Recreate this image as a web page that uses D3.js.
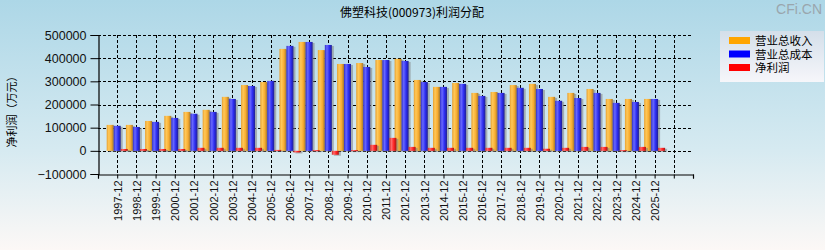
<!DOCTYPE html>
<html>
<head>
<meta charset="utf-8">
<script src="https://cdn.jsdelivr.net/npm/d3@7/dist/d3.min.js"></script>
<style>
  body { margin: 0; padding: 0; }
  svg { display: block; }
</style>
</head>
<body>
<script>
// data (万元)
var years = ["1997-12","1998-12","1999-12","2000-12","2001-12","2002-12","2003-12","2004-12","2005-12","2006-12",
             "2007-12","2008-12","2009-12","2010-12","2011-12","2012-12","2013-12","2014-12","2015-12","2016-12",
             "2017-12","2018-12","2019-12","2020-12","2021-12","2022-12","2023-12","2024-12","2025-12"];
var revenue = [112000,112000,129000,151000,168000,177000,233000,284000,297000,440000,
               470000,435000,375000,379000,392000,397000,306000,276000,293000,250000,
               254000,284000,289000,233000,250000,267000,224000,224000,224000];
var cost    = [108000,103000,125000,142000,160000,168000,224000,280000,302000,453000,
               470000,457000,375000,362000,392000,388000,297000,276000,289000,237000,
               250000,272000,267000,216000,228000,250000,207000,211000,224000];
var profit  = [8000,8000,8000,8000,13000,13000,13000,13000,4000,-7000,
               3000,-17000,3000,26000,56000,17000,13000,13000,13000,13000,
               13000,13000,9000,13000,17000,17000,3000,17000,13000];
var yTicks = [-100000,0,100000,200000,300000,400000,500000];
var seriesNames = ["营业总收入","营业总成本","净利润"];
var seriesColors = ["#ffa500","#0000ff","#ff0000"];

var W = 825, H = 250;
var pL = 98, pR = 693, pT = 35, pB = 174;

var svg = d3.select("body").append("svg").attr("width", W).attr("height", H);
var defs = svg.append("defs");

var bg = defs.append("linearGradient").attr("id","bg").attr("x1",0).attr("y1",0).attr("x2",0).attr("y2",1);
bg.append("stop").attr("offset","0%").attr("stop-color","#add7e7");
bg.append("stop").attr("offset","60%").attr("stop-color","#d6eaf1");
bg.append("stop").attr("offset","100%").attr("stop-color","#fcf8f6");
svg.append("rect").attr("width",W).attr("height",H).attr("fill","url(#bg)");

function barGrad(id, stops) {
  var g = defs.append("linearGradient").attr("id", id).attr("x1",0).attr("y1",0).attr("x2",1).attr("y2",0);
  stops.forEach(function(s){ g.append("stop").attr("offset", s[0]).attr("stop-color", s[1]); });
}
barGrad("g0", [["0%","#e8a030"],["30%","#ffc858"],["65%","#f8ac30"],["100%","#a07830"]]);
barGrad("g1", [["0%","#3030c8"],["30%","#6868ff"],["65%","#2c2cf0"],["100%","#202090"]]);
barGrad("g2", [["0%","#d02828"],["30%","#ff6868"],["65%","#ff2020"],["100%","#a01818"]]);

var x = d3.scaleLinear().domain([-1, years.length + 1]).range([pL, pR]);
var y = d3.scaleLinear().domain([-100000, 500000]).range([pB, pT]);

// grid
var grid = svg.append("g");
grid.selectAll(".hg").data(yTicks.filter(function(d){ return d > -100000; })).enter().append("line")
  .attr("x1", pL).attr("x2", pR)
  .attr("y1", function(d){ return Math.round(y(d)) + 0.5; })
  .attr("y2", function(d){ return Math.round(y(d)) + 0.5; })
  .attr("stroke","#000").attr("stroke-dasharray","3,2");
grid.selectAll(".vg").data(years.concat(["end"])).enter().append("line")
  .attr("x1", function(d,i){ return Math.round(x(i)) + 0.5; })
  .attr("x2", function(d,i){ return Math.round(x(i)) + 0.5; })
  .attr("y1", pT).attr("y2", pB)
  .attr("stroke","#000").attr("stroke-dasharray","3,2");

// bars
var bw = 7;
var series = [revenue, cost, profit];
series.forEach(function(vals, k) {
  var g = svg.append("g");
  var off = -10.5 + k * 7;
  // shadow
  g.selectAll(".s").data(vals).enter().append("rect")
    .attr("x", function(d,i){ return x(i) + off + 2; })
    .attr("y", function(d){ return Math.min(y(d), y(0)) + 1; })
    .attr("width", bw)
    .attr("height", function(d){ return Math.max(1, Math.abs(y(d) - y(0))); })
    .attr("fill","#808080").attr("opacity",0.55);
  g.selectAll(".b").data(vals).enter().append("rect")
    .attr("x", function(d,i){ return x(i) + off; })
    .attr("y", function(d){ return Math.min(y(d), y(0)); })
    .attr("width", bw)
    .attr("height", function(d){ return Math.max(1, Math.abs(y(d) - y(0))); })
    .attr("fill","url(#g" + k + ")");
});

// axes
var yAxis = d3.axisLeft(y).tickValues(yTicks).tickSize(8).tickFormat(d3.format("d"));
var ya = svg.append("g").attr("transform","translate(" + (pL + 0.5) + ",0)").call(yAxis);
ya.select(".domain").attr("stroke","#000").attr("stroke-width",1.2);
ya.selectAll("text").attr("font-family","Liberation Sans, Arial, sans-serif").attr("font-size","12.5px").attr("fill","#111").attr("dx","-1");

var xAxis = d3.axisBottom(x).tickValues(d3.range(-1, years.length + 2)).tickSize(4).tickFormat(function(d){ return (d >= 0 && d < years.length) ? years[d] : ""; });
var xa = svg.append("g").attr("transform","translate(0," + (pB + 0.5) + ")").call(xAxis);
xa.select(".domain").attr("stroke","#000").attr("stroke-width",1.2);
xa.selectAll("text")
  .attr("font-family","Liberation Sans, Arial, sans-serif").attr("font-size","11px").attr("fill","#111")
  .attr("transform","rotate(-90)").attr("text-anchor","end")
  .attr("x", -6).attr("y", 0).attr("dy","0.35em");

// title
svg.append("text").attr("x", 412).attr("y", 17).attr("text-anchor","middle")
  .attr("font-family","Noto Sans CJK SC, sans-serif").attr("font-size","12px").attr("fill","#000")
  .text("佛塑科技(000973)利润分配");

// y label
svg.append("text").attr("transform","translate(16,109) rotate(-90)").attr("text-anchor","middle")
  .attr("font-family","Noto Sans CJK SC, sans-serif").attr("font-size","11px").attr("fill","#000")
  .text("净利润（万元）");

// watermark
svg.append("text").attr("x", 822).attr("y", 14).attr("text-anchor","end")
  .attr("font-family","Liberation Sans, Arial, sans-serif").attr("font-size","14px").attr("fill","#9aa6ad")
  .text("CFi.CN");

// legend
var lg = defs.append("linearGradient").attr("id","lg").attr("x1",0).attr("y1",0).attr("x2",0).attr("y2",1);
lg.append("stop").attr("offset","0%").attr("stop-color","#d4dfea");
lg.append("stop").attr("offset","100%").attr("stop-color","#f6f6fa");
var leg = svg.append("g").attr("transform","translate(720,31)");
leg.append("rect").attr("width",104).attr("height",51).attr("fill","url(#lg)");
var li = leg.selectAll(".li").data(seriesNames).enter().append("g")
  .attr("transform", function(d,i){ return "translate(9," + (6 + i * 13.5) + ")"; });
li.append("rect").attr("width",21).attr("height",7).attr("fill", function(d,i){ return seriesColors[i]; });
li.append("text").attr("x",26).attr("y",4).attr("dy","0.35em")
  .attr("font-family","Noto Sans CJK SC, sans-serif").attr("font-size","11.5px").attr("fill","#000")
  .text(function(d){ return d; });
</script>
</body>
</html>
